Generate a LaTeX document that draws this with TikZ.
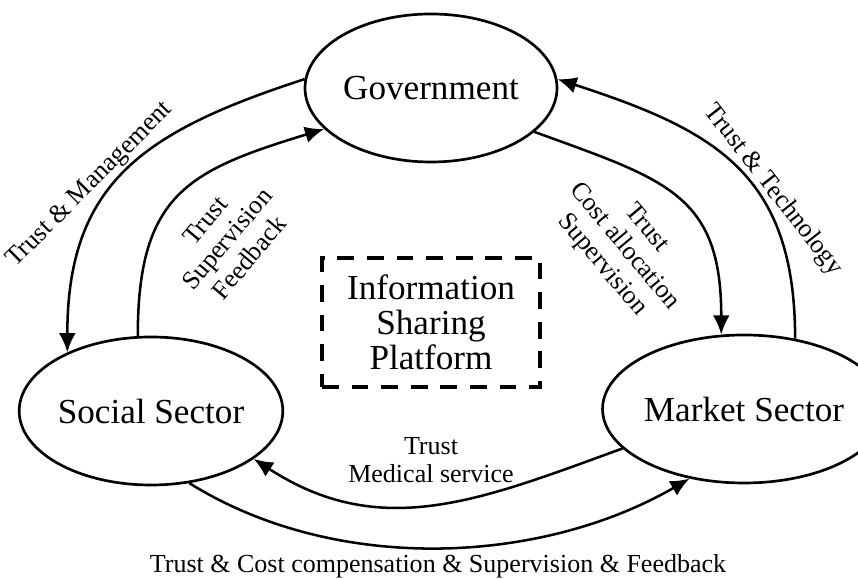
\documentclass[tikz,border=0pt]{standalone}
\usepackage{fontspec}
\setmainfont{Liberation Serif}
\usetikzlibrary{shapes.geometric,arrows.meta}

\def \nodefont {\fontsize{25}{25}\selectfont}
\def \labelfont {\fontsize{18.5}{20.5}\selectfont}

\tikzset{
  actor/.style={draw, ellipse, line width=1.9pt, inner sep=0pt,
    minimum width=6.3cm, minimum height=3.7cm, font=\nodefont},
  platformbox/.style={draw, line width=2.8pt, dash pattern=on 4.2mm off 3.2mm,
    minimum width=5.45cm, minimum height=3.225cm, align=center, font=\nodefont},
  flow/.style={-{Latex[length=4.8mm,width=4.2mm]}, line width=1.8pt},
  lbl/.style={align=center, font=\labelfont, inner sep=1pt}
}

\begin{document}
\begin{tikzpicture}
\useasboundingbox (0,0) rectangle (21.45,14.475);

% the three actors and the platform in between
\node[actor] (gov) at (10.775,12.275) {Government};
\node[actor] (social) at (3.775,4.2) {Social Sector};
\node[actor, minimum width=6.35cm] (market) at (18.6,4.25) {Market Sector};
\node[platformbox] (platform) at (10.775,6.4125) {Information\\Sharing\\Platform};

% flows between the actors
\draw[flow] (gov.176) to[out=198, in=90, looseness=1.2] (social.145);
\draw[flow] (social.100) to[out=90, in=197, looseness=1.3] (gov.201);
\draw[flow] (market.54) to[out=90, in=342, looseness=1.2] (gov.4);
\draw[flow] (gov.337) to[out=340, in=90, looseness=1.3] (market.107);
\draw[flow] (market.198) to[out=200, in=-33, looseness=1.05] (social.335);
\draw[flow] (social.298) to[out=-32, in=210, looseness=0.88] (market.232);

% what goes along each flow
\node[lbl, rotate=45] (lblmanage) at (2.25,9.85) {Trust \& Management};
\node[lbl, rotate=50] (lblfeedback) at (5.675,8.5) {Trust\\Supervision\\Feedback};
\node[lbl, rotate=-52] (lbltech) at (19.325,9.725) {Trust \& Technology};
\node[lbl, rotate=-50] (lblcost) at (15.6,8.3) {Trust\\Cost allocation\\Supervision};
\node[lbl] (lblmedical) at (10.775,2.97) {Trust\\Medical service};
\node[lbl] (lblcomp) at (10.95,0.33) {Trust \& Cost compensation \& Supervision \& Feedback};
\end{tikzpicture}
\end{document}
